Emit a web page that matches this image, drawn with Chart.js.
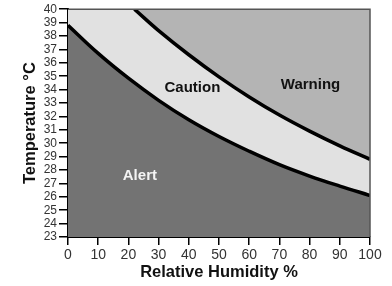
<!DOCTYPE html>
<html>
<head>
<meta charset="utf-8">
<script src="https://cdn.jsdelivr.net/npm/chart.js@4.4.0/dist/chart.umd.min.js"></script>
<style>
  body { margin: 0; background: #fff; }
  canvas { display: block; }
</style>
</head>
<body>
<canvas id="heatChart" width="392" height="286"></canvas>
<script>
// Lower boundary (Alert / Caution)
const humidity = [0, 10, 20, 30, 40, 50, 60, 70, 80, 90, 100];
const lowerTemp = [38.8, 36.7, 34.85, 33.2, 31.75, 30.5, 29.4, 28.4, 27.55, 26.8, 26.1];

// Upper boundary (Caution / Warning)
const upperHumidity = [22, 30, 40, 50, 60, 70, 80, 90, 100];
const upperTemp = [40, 38.4, 36.6, 34.95, 33.45, 32.1, 30.9, 29.8, 28.8];

// Region labels
const zoneNames = ['Caution', 'Warning', 'Alert'];
const zoneHumidity = [41.2, 80.3, 23.8];
const zoneTemp = [34.1, 34.36, 27.58];

const ALERT_COLOR = '#737373';
const CAUTION_COLOR = '#e1e1e1';
const WARNING_COLOR = '#b4b4b4';
const FONT = '"Liberation Sans", Arial, sans-serif';

// paints caution colour under everything, then the frame + labels on top
const zonePlugin = {
    id: 'zones',
    beforeDatasetsDraw(chart) {
        const { ctx, chartArea: a } = chart;
        ctx.save();
        ctx.fillStyle = CAUTION_COLOR;
        ctx.fillRect(a.left, a.top, a.right - a.left, a.bottom - a.top);
        ctx.restore();
    },
    afterDatasetsDraw(chart) {
        const { ctx, chartArea: a, scales } = chart;
        ctx.save();
        ctx.strokeStyle = '#555';
        ctx.lineWidth = 1.5;
        ctx.beginPath();
        ctx.moveTo(a.left, a.top);
        ctx.lineTo(a.right, a.top);
        ctx.lineTo(a.right, a.bottom);
        ctx.stroke();

        ctx.font = 'bold 15px ' + FONT;
        ctx.textAlign = 'center';
        ctx.textBaseline = 'middle';
        zoneNames.forEach((name, i) => {
            ctx.fillStyle = name === 'Alert' ? '#f4f4f4' : '#111';
            ctx.fillText(name, scales.x.getPixelForValue(zoneHumidity[i]), scales.y.getPixelForValue(zoneTemp[i]));
        });
        ctx.restore();
    }
};

const ctx = document.getElementById('heatChart').getContext('2d');
new Chart(ctx, {
    type: 'line',
    data: {
        datasets: [
            {
                label: 'Alert limit',
                data: humidity.map((h, i) => ({ x: h, y: lowerTemp[i] })),
                borderColor: '#000',
                borderWidth: 3.5,
                backgroundColor: ALERT_COLOR,
                fill: 'start',
                pointRadius: 0,
                tension: 0.4,
                clip: 0
            },
            {
                label: 'Warning limit',
                data: upperHumidity.map((h, i) => ({ x: h, y: upperTemp[i] })),
                borderColor: '#000',
                borderWidth: 3.5,
                backgroundColor: WARNING_COLOR,
                fill: 'end',
                pointRadius: 0,
                tension: 0.4,
                clip: 0
            }
        ]
    },
    options: {
        responsive: false,
        animation: false,
        devicePixelRatio: 1,
        layout: { padding: { left: 0, top: 7, right: 22, bottom: 0 } },
        plugins: { legend: { display: false }, tooltip: { enabled: false } },
        scales: {
            x: {
                type: 'linear',
                min: 0,
                max: 100,
                afterFit: s => { s.height = 49; },
                ticks: { stepSize: 10, color: '#333', padding: 2, font: { family: FONT, size: 14 }, maxRotation: 0 },
                grid: { drawOnChartArea: false, drawTicks: true, tickLength: 8, color: '#000', lineWidth: 1.5 },
                border: { color: '#000', width: 2 },
                title: { display: true, text: 'Relative Humidity %', color: '#111', font: { family: FONT, size: 16.5, weight: 'bold' }, padding: { top: 0, bottom: 4 } }
            },
            y: {
                min: 23,
                max: 40,
                afterFit: s => { s.width = 68; },
                ticks: { stepSize: 1, autoSkip: false, color: '#333', padding: 2, font: { family: FONT, size: 12 } },
                grid: { drawOnChartArea: false, drawTicks: true, tickLength: 9, color: '#000', lineWidth: 1.5 },
                border: { color: '#000', width: 2 },
                title: { display: true, text: 'Temperature °C', color: '#111', font: { family: FONT, size: 16.5, weight: 'bold' }, padding: { top: 21, bottom: 0 } }
            }
        }
    },
    plugins: [zonePlugin]
});
</script>
</body>
</html>
